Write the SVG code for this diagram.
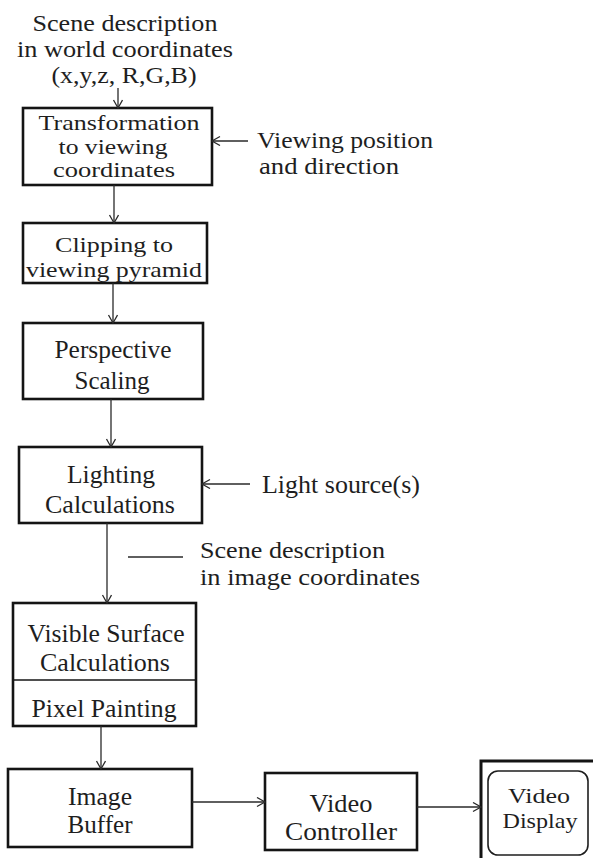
<svg xmlns="http://www.w3.org/2000/svg" width="593" height="858" viewBox="0 0 593 858">
<style>
text{font-family:"Liberation Serif","Times New Roman",serif;font-size:25px;fill:#1e1e1e}
.c{text-anchor:middle}
.s23{font-size:23px}
.s22{font-size:22px}
.s21{font-size:21px}
.box{fill:none;stroke:#141414;stroke-width:2.6}
.con{fill:none;stroke:#2a2a2a;stroke-width:1.3}
</style>
<defs>
<marker id="ah" markerUnits="userSpaceOnUse" markerWidth="12" markerHeight="12" refX="9" refY="5" orient="auto">
<path d="M1,0.5 L9,5 L1,9.5" fill="none" stroke="#2a2a2a" stroke-width="1.3"/>
</marker>
</defs>
<rect width="593" height="858" fill="#ffffff"/>
<g id="input-scene">
<text class="c s23" x="125" y="31" textLength="185" lengthAdjust="spacingAndGlyphs">Scene description</text>
<text class="c s23" x="125" y="57" textLength="216" lengthAdjust="spacingAndGlyphs">in world coordinates</text>
<text class="c s23" x="124" y="83" textLength="145" lengthAdjust="spacingAndGlyphs">(x,y,z, R,G,B)</text>
</g>
<g id="transformation">
<rect class="box" x="23" y="108" width="189" height="77"/>
<text class="c s21" x="119" y="130" textLength="161" lengthAdjust="spacingAndGlyphs">Transformation</text>
<text class="c s21" x="113" y="153.5" textLength="109" lengthAdjust="spacingAndGlyphs">to viewing</text>
<text class="c s21" x="114" y="177" textLength="122" lengthAdjust="spacingAndGlyphs">coordinates</text>
</g>
<g id="viewing-position">
<text class="s23" x="257" y="148" textLength="176" lengthAdjust="spacingAndGlyphs">Viewing position</text>
<text class="s23" x="259" y="174" textLength="140" lengthAdjust="spacingAndGlyphs">and direction</text>
</g>
<g id="clipping">
<rect class="box" x="23" y="223" width="184" height="60"/>
<text class="c s22" x="114" y="252" textLength="118" lengthAdjust="spacingAndGlyphs">Clipping to</text>
<text class="c s22" x="114" y="277" textLength="176" lengthAdjust="spacingAndGlyphs">viewing pyramid</text>
</g>
<g id="perspective">
<rect class="box" x="23" y="323" width="180" height="76"/>
<text class="c" x="113" y="358" textLength="117" lengthAdjust="spacingAndGlyphs">Perspective</text>
<text class="c" x="112" y="389" textLength="75" lengthAdjust="spacingAndGlyphs">Scaling</text>
</g>
<g id="lighting">
<rect class="box" x="19" y="447" width="183" height="76"/>
<text class="c" x="111" y="483" textLength="88" lengthAdjust="spacingAndGlyphs">Lighting</text>
<text class="c" x="110" y="513" textLength="130" lengthAdjust="spacingAndGlyphs">Calculations</text>
</g>
<g id="light-source">
<text x="262" y="493" textLength="158" lengthAdjust="spacingAndGlyphs">Light source(s)</text>
</g>
<g id="scene-image">
<text class="s23" x="200" y="558" textLength="185" lengthAdjust="spacingAndGlyphs">Scene description</text>
<text class="s23" x="200" y="585" textLength="220" lengthAdjust="spacingAndGlyphs">in image coordinates</text>
</g>
<g id="visible-surface">
<rect class="box" x="13" y="603" width="183" height="123"/>
<line x1="13" y1="680" x2="196" y2="680" stroke="#141414" stroke-width="1.6"/>
<text class="c" x="106" y="642" textLength="157" lengthAdjust="spacingAndGlyphs">Visible Surface</text>
<text class="c" x="105" y="671" textLength="130" lengthAdjust="spacingAndGlyphs">Calculations</text>
<text class="c" x="104" y="717" textLength="145" lengthAdjust="spacingAndGlyphs">Pixel Painting</text>
</g>
<g id="image-buffer">
<rect class="box" x="8" y="769" width="184" height="78"/>
<text class="c" x="100" y="805" textLength="64" lengthAdjust="spacingAndGlyphs">Image</text>
<text class="c" x="100" y="833" textLength="65" lengthAdjust="spacingAndGlyphs">Buffer</text>
</g>
<g id="video-controller">
<rect class="box" x="265" y="773" width="152" height="77"/>
<text class="c" x="341" y="812" textLength="63" lengthAdjust="spacingAndGlyphs">Video</text>
<text class="c" x="341" y="840" textLength="112" lengthAdjust="spacingAndGlyphs">Controller</text>
</g>
<g id="video-display">
<rect x="481" y="761" width="130" height="110" fill="none" stroke="#141414" stroke-width="3"/>
<rect x="488" y="771" width="100" height="84" rx="10" ry="10" fill="none" stroke="#1e1e1e" stroke-width="1.6"/>
<text class="c s22" x="539" y="803" textLength="62" lengthAdjust="spacingAndGlyphs">Video</text>
<text class="c s22" x="540" y="828" textLength="75" lengthAdjust="spacingAndGlyphs">Display</text>
</g>
<g id="connectors">
<line class="con" x1="118" y1="88" x2="118" y2="108" marker-end="url(#ah)"/>
<line class="con" x1="114" y1="185" x2="114" y2="223" marker-end="url(#ah)"/>
<line class="con" x1="113" y1="283" x2="113" y2="323" marker-end="url(#ah)"/>
<line class="con" x1="111" y1="399" x2="111" y2="447" marker-end="url(#ah)"/>
<line class="con" x1="107" y1="523" x2="107" y2="603" marker-end="url(#ah)"/>
<line class="con" x1="101" y1="726" x2="101" y2="769" marker-end="url(#ah)"/>
<line class="con" x1="192" y1="802" x2="265" y2="802" marker-end="url(#ah)"/>
<line class="con" x1="417" y1="807" x2="481" y2="807" marker-end="url(#ah)"/>
<line class="con" x1="248" y1="141" x2="212" y2="141" marker-end="url(#ah)"/>
<line class="con" x1="250" y1="484" x2="202" y2="484" marker-end="url(#ah)"/>
<line class="con" x1="128" y1="557" x2="183" y2="557"/>
</g>
</svg>
